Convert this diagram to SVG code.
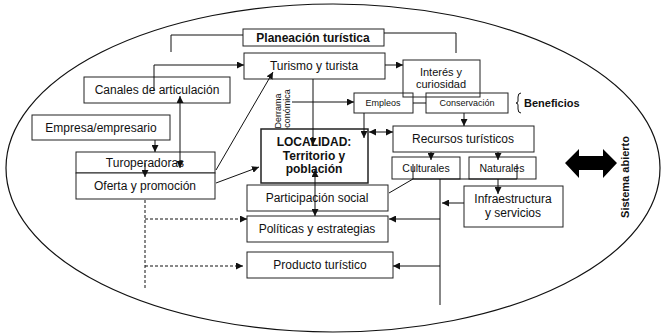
<svg xmlns="http://www.w3.org/2000/svg" width="663" height="336" viewBox="0 0 663 336">
<style>
.b{fill:#fff;stroke:#222;stroke-width:1}
.t{font-family:"Liberation Sans",Arial,sans-serif;font-size:12px;fill:#111;text-anchor:middle}
.s{font-size:9px}
.bd{font-weight:bold}
.c{fill:none;stroke:#111;stroke-width:1}
.d{stroke-dasharray:3,2}
</style>
<defs>
<marker id="a" viewBox="0 0 10 10" refX="10" refY="5" markerWidth="7" markerHeight="7" orient="auto-start-reverse" markerUnits="userSpaceOnUse">
<path d="M0,0 L10,5 L0,10 z" fill="#111"/>
</marker>
</defs>
<rect width="663" height="336" fill="#fff"/>
<ellipse cx="333" cy="168" rx="327" ry="164" fill="none" stroke="#111" stroke-width="1.2"/>

<g id="planeacion"><rect class="b" x="243" y="29" width="141" height="17"/><text class="t bd" x="313" y="42">Planeación turística</text></g>
<g id="turismo"><rect class="b" x="244" y="53" width="141" height="26"/><text class="t" x="314" y="70">Turismo y turista</text></g>
<g id="canales"><rect class="b" x="84" y="77" width="146" height="26"/><text class="t" x="157" y="94">Canales de articulación</text></g>
<g id="empleos"><rect class="b" x="354" y="93" width="59" height="20"/><text class="t s" x="383" y="106">Empleos</text></g>
<g id="conservacion"><rect class="b" x="426" y="93" width="82" height="20"/><text class="t s" x="467" y="106">Conservación</text></g>
<g id="interes"><rect class="b" style="fill:none" x="403" y="60" width="77" height="37"/><text class="t" style="font-size:11px" x="441" y="76">Interés y</text><text class="t" style="font-size:11px" x="441" y="88">curiosidad</text></g>
<g id="beneficios"><text class="t bd" style="font-size:11px;text-anchor:start" x="524" y="107">Beneficios</text></g>
<g id="derrama"><text class="t s" transform="translate(281,111) rotate(-90)">Derrama</text><text class="t s" transform="translate(290,111) rotate(-90)">económica</text></g>
<g id="empresa"><rect class="b" x="32" y="115" width="138" height="25"/><text class="t" x="101" y="132">Empresa/empresario</text></g>
<g id="localidad"><rect class="b" x="261" y="129" width="107" height="54" style="stroke-width:1.5"/><text class="t bd" x="314" y="146">LOCALIDAD:</text><text class="t bd" x="314" y="160">Territorio y</text><text class="t bd" x="314" y="173">población</text></g>
<g id="recursos"><rect class="b" x="393" y="126" width="141" height="26"/><text class="t" x="463" y="143">Recursos turísticos</text></g>
<g id="culturales"><rect class="b" x="392" y="157" width="68" height="22"/><text class="t" style="font-size:10.5px" x="426" y="172">Culturales</text></g>
<g id="naturales"><rect class="b" x="469" y="157" width="67" height="22"/><text class="t" style="font-size:10.5px" x="502" y="172">Naturales</text></g>
<g id="turoperadoras"><rect class="b" x="76" y="152" width="139" height="21"/><text class="t" x="145" y="167">Turoperadoras</text></g>
<g id="oferta"><rect class="b" x="76" y="173" width="139" height="26"/><text class="t" x="145" y="190">Oferta y promoción</text></g>
<g id="participacion"><rect class="b" x="247" y="185" width="141" height="26"/><text class="t" x="317" y="202">Participación social</text></g>
<g id="infraestructura"><rect class="b" x="464" y="186" width="99" height="41"/><text class="t" x="513" y="203">Infraestructura</text><text class="t" x="513" y="217">y servicios</text></g>
<g id="politicas"><rect class="b" x="247" y="216" width="141" height="26"/><text class="t" x="317" y="233">Políticas y estrategias</text></g>
<g id="producto"><rect class="b" x="247" y="252" width="146" height="26"/><text class="t" x="320" y="269">Producto turístico</text></g>
<g id="sistema"><polygon points="565,163 579,149 579,156 603,156 603,149 617,163 603,178 603,170 579,170 579,178" fill="#000"/><text class="t bd" style="font-size:11px" transform="translate(629,177) rotate(-90)">Sistema abierto</text></g>

<g id="connectors">
<polyline class="c" points="243,35 171,35 171,52"/>
<polyline class="c" points="384,33 456,33 456,53"/>
<polyline class="c" points="154,90 154,65 244,65" marker-end="url(#a)"/>
<line class="c" x1="385" y1="65" x2="403" y2="65" marker-end="url(#a)"/>
<line class="c" x1="292" y1="102" x2="354" y2="102" marker-end="url(#a)"/>
<line class="c" x1="413" y1="103" x2="426" y2="103"/>
<line class="c" x1="313" y1="79" x2="313" y2="145" marker-end="url(#a)"/>
<line class="c" x1="364" y1="113" x2="364" y2="138" marker-end="url(#a)"/>
<line class="c" x1="369" y1="132" x2="393" y2="132" marker-start="url(#a)" marker-end="url(#a)"/>
<line class="c" x1="464" y1="113" x2="464" y2="126" marker-end="url(#a)"/>
<line class="c" x1="431" y1="152" x2="431" y2="160" marker-end="url(#a)"/>
<line class="c" x1="498" y1="152" x2="498" y2="160" marker-end="url(#a)"/>
<polyline class="c" points="413,164 413,179 517,179 517,164"/>
<line class="c" x1="413" y1="179" x2="389" y2="193"/>
<line class="c" x1="440" y1="179" x2="440" y2="305"/>
<line class="c" x1="498" y1="179" x2="498" y2="194" marker-end="url(#a)"/>
<line class="c" x1="464" y1="203" x2="442" y2="203" marker-end="url(#a)"/>
<line class="c" x1="440" y1="219" x2="389" y2="219" marker-end="url(#a)"/>
<line class="c" x1="440" y1="266" x2="393" y2="266" marker-end="url(#a)"/>
<line class="c" x1="315" y1="170" x2="315" y2="216" marker-start="url(#a)" marker-end="url(#a)"/>
<line class="c" x1="155" y1="140" x2="155" y2="152" marker-end="url(#a)"/>
<line class="c" x1="180" y1="96" x2="180" y2="168" marker-start="url(#a)" marker-end="url(#a)"/>
<line class="c" x1="145" y1="163" x2="145" y2="177" marker-end="url(#a)"/>
<line class="c" x1="216" y1="170" x2="273" y2="72" marker-end="url(#a)"/>
<line class="c" x1="216" y1="183" x2="259" y2="167" marker-end="url(#a)"/>
<line class="c d" x1="145" y1="200" x2="145" y2="290"/>
<line class="c d" x1="145" y1="219" x2="247" y2="219" marker-end="url(#a)"/>
<line class="c d" x1="145" y1="266" x2="243" y2="266" marker-end="url(#a)"/>
<path class="c" d="M521,93 Q518,93 518,97 L518,101 Q518,103 516,103 Q518,103 518,105 L518,109 Q518,113 521,113"/>
</g>
</svg>
